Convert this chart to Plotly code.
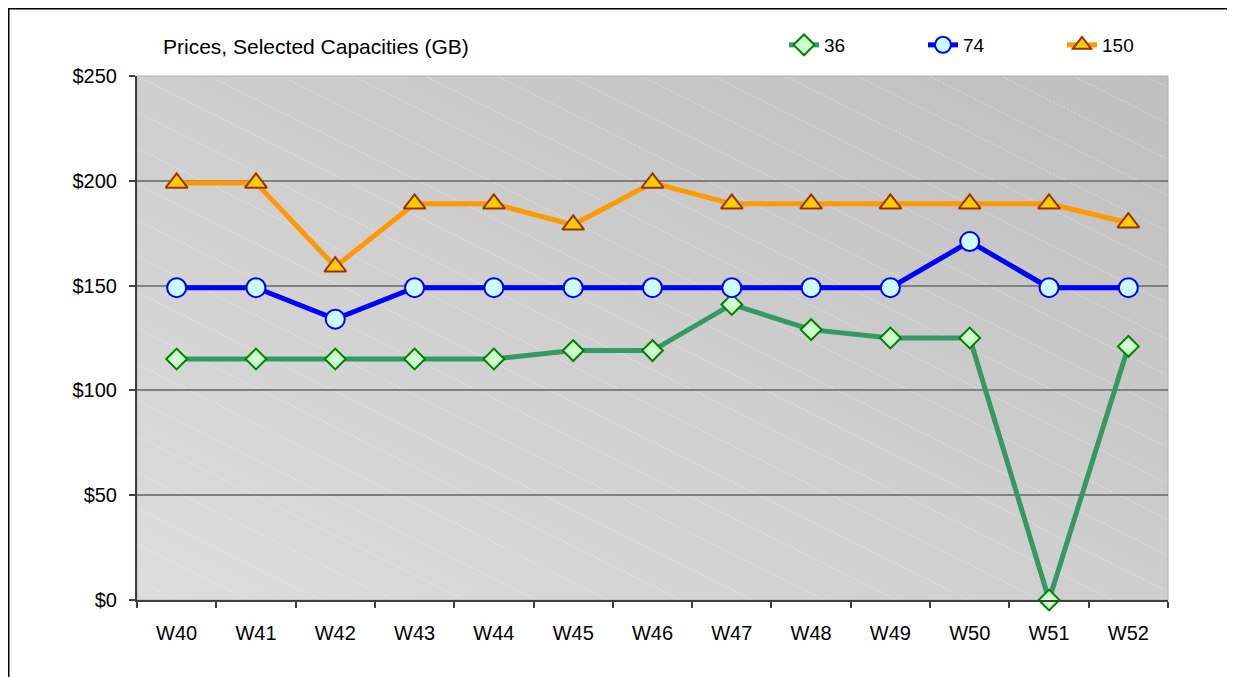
import base64
import plotly.graph_objects as go

weeks = ["W40", "W41", "W42", "W43", "W44", "W45", "W46", "W47", "W48", "W49", "W50", "W51", "W52"]
cap36 = [115, 115, 115, 115, 115, 119, 119, 141, 129, 125, 125, 0, 121]
cap74 = [149, 149, 134, 149, 149, 149, 149, 149, 149, 149, 171, 149, 149]
cap150 = [199, 199, 159, 189, 189, 179, 199, 189, 189, 189, 189, 189, 180]

# the page body adds an 8px offset; figure origin is at screen (8, 8)
OFF = 8
W, H = 1235 - OFF, 677 - OFF
SX0, SX1, SY0, SY1 = 137, 1168, 76, 600   # plot area in screen pixels
L, T = SX0 - OFF, SY0 - OFF
PW, PH = SX1 - SX0, SY1 - SY0
R, B = W - L - PW, H - T - PH

# background: diagonal gradient with faint dashed diagonal lines
lines = []
for k in range(-40, 60):
    y0 = k * 36
    lines.append(f'<line x1="0" y1="{y0}" x2="{PW}" y2="{y0 + PW * 0.5}" '
                 f'stroke="white" stroke-opacity="0.5" stroke-width="0.8" stroke-dasharray="2,2"/>')
svg = (f'<svg xmlns="http://www.w3.org/2000/svg" width="{PW}" height="{PH}" viewBox="0 0 {PW} {PH}" preserveAspectRatio="none">'
       '<defs><linearGradient id="g" x1="0" y1="1" x2="1" y2="0">'
       '<stop offset="0" stop-color="#dddddd"/><stop offset="1" stop-color="#bfbfbf"/>'
       '</linearGradient></defs>'
       f'<rect x="0" y="0" width="{PW}" height="{PH}" fill="url(#g)"/>'
       + "".join(lines) + '</svg>')
src = "data:image/svg+xml;base64," + base64.b64encode(svg.encode()).decode()

fig = go.Figure()
fig.add_trace(go.Scatter(x=weeks, y=cap36, name="36", mode="lines+markers",
                         line=dict(color="#339966", width=5),
                         marker=dict(symbol="diamond", size=16, color="#ccffcc",
                                     line=dict(color="#008000", width=2)),
                         cliponaxis=False))
fig.add_trace(go.Scatter(x=weeks, y=cap74, name="74", mode="lines+markers",
                         line=dict(color="#0000ff", width=5),
                         marker=dict(symbol="circle", size=19, color="#ccffff",
                                     line=dict(color="#0000ff", width=2)),
                         cliponaxis=False))
fig.add_trace(go.Scatter(x=weeks, y=cap150, name="150", mode="lines+markers",
                         line=dict(color="#ff9900", width=5),
                         marker=dict(symbol="triangle-up", size=19, color="#ffcc00",
                                     line=dict(color="#993300", width=2)),
                         cliponaxis=False))

def px_x(p):
    return (p - SX0) / PW

def px_y(p):
    return (SY1 - p) / PH

fig.update_layout(
    width=W, height=H,
    margin=dict(l=L, r=R, t=T, b=B, autoexpand=False),
    paper_bgcolor="white", plot_bgcolor="rgba(0,0,0,0)",
    font=dict(family="Liberation Sans, Arial, sans-serif", size=20, color="black"),
    showlegend=True,
    legend=dict(orientation="h", x=px_x(784), y=px_y(45), xanchor="left", yanchor="middle",
                entrywidth=94, entrywidthmode="pixels", bgcolor="rgba(0,0,0,0)",
                font=dict(size=19), itemsizing="trace"),
    images=[dict(source=src, xref="paper", yref="paper", x=0, y=1, sizex=1, sizey=1,
                 xanchor="left", yanchor="top", sizing="stretch", layer="below")],
    annotations=[dict(text="Prices, Selected Capacities (GB)", xref="paper", yref="paper",
                      x=px_x(161), y=px_y(46), xanchor="left", yanchor="middle",
                      showarrow=False, font=dict(size=21))],
    shapes=[
        dict(type="rect", xref="paper", yref="paper",
             x0=px_x(8.75), x1=px_x(1300), y0=px_y(720), y1=px_y(8.75),
             line=dict(color="black", width=1.5), fillcolor="rgba(0,0,0,0)", layer="below"),
        dict(type="rect", xref="paper", yref="paper", x0=0, x1=1, y0=0, y1=1,
             line=dict(color="#b0b0b0", width=1), fillcolor="rgba(0,0,0,0)", layer="below"),
    ],
)
fig.update_xaxes(type="category", range=[-0.5, len(weeks) - 0.5], showgrid=False, showline=True,
                 linecolor="#404040", linewidth=2,
                 ticks="outside", tickson="boundaries", ticklen=6, tickcolor="#404040", tickwidth=1.5,
                 tickfont=dict(size=20), ticklabelstandoff=14, zeroline=False, mirror=False)
fig.update_yaxes(range=[0, 250], dtick=50, tickprefix="$", showgrid=True, gridcolor="#808080",
                 gridwidth=2, showline=True, linecolor="#404040", linewidth=2, ticks="outside",
                 ticklen=6, tickcolor="#404040", tickwidth=1.5, zeroline=False,
                 tickfont=dict(size=20), ticklabelstandoff=8)

fig.write_html("out.html")
